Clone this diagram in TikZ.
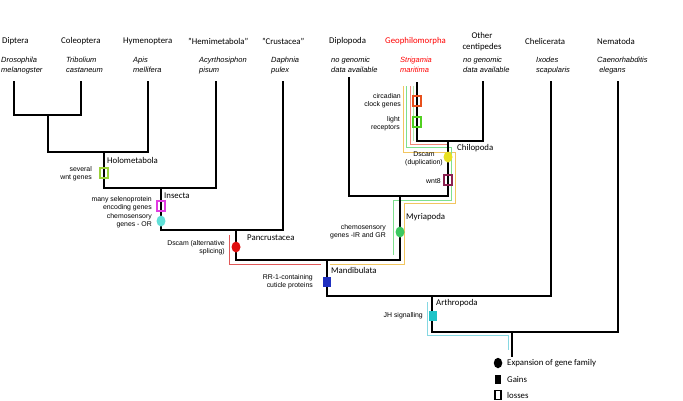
\documentclass[tikz,border=0pt]{standalone}
\usepackage{fontspec}
\setmainfont{Carlito}
\newfontfamily\arialf{Liberation Sans}
\usetikzlibrary{shapes.geometric}
\definecolor{cWnt}{HTML}{9CD23A}
\definecolor{cSel}{HTML}{E03CE0}
\definecolor{cOR}{HTML}{60E0D8}
\definecolor{cDsA}{HTML}{E01010}
\definecolor{cMyr}{HTML}{3CC860}
\definecolor{cRR}{HTML}{2030C0}
\definecolor{cJH}{HTML}{20C4C8}
\definecolor{cCirc}{HTML}{E8501C}
\definecolor{cLight}{HTML}{50D020}
\definecolor{cDsD}{HTML}{E8E020}
\definecolor{cWnt8}{HTML}{8B2050}
\definecolor{lOrange}{HTML}{F2C660}
\definecolor{lGreen}{HTML}{7EE08E}
\definecolor{lSalmon}{HTML}{F08878}
\definecolor{lLight}{HTML}{B0E8A8}
\definecolor{lRed}{HTML}{E05858}
\definecolor{lCyan}{HTML}{86D8E2}
\begin{document}
\begin{tikzpicture}[x=1pt,y=-1pt,
  tree/.style={line width=2.5pt,line cap=rect},
  trace/.style={line width=0.8pt},
  toplab/.style={anchor=west,inner sep=0pt,font=\fontsize{8.8}{10}\selectfont},
  sp/.style={anchor=north west,inner sep=0pt,align=left,font=\arialf\itshape\fontsize{7.5}{9.6}\selectfont},
  mlab/.style={anchor=east,inner sep=0pt,align=right,font=\arialf\fontsize{6.9}{8.2}\selectfont},
  clab/.style={anchor=west,inner sep=0pt,font=\fontsize{8.8}{10}\selectfont},
  hsq/.style={draw=#1,line width=1.6pt,minimum width=8pt,minimum height=10pt,inner sep=0pt},
  fsq/.style={fill=#1,minimum width=8pt,minimum height=10pt,inner sep=0pt},
  ell/.style={ellipse,fill=#1,minimum width=9pt,minimum height=11pt,inner sep=0pt}]
\useasboundingbox (0,0) rectangle (683,400);

% top labels
\node[toplab] (tDip) at (2,41) {Diptera};
\node[toplab] (tCol) at (61,41) {Coleoptera};
\node[toplab] (tHym) at (123,41) {Hymenoptera};
\node[toplab] (tHem) at (188,41) {"Hemimetabola"};
\node[toplab] (tCru) at (262,41) {"Crustacea"};
\node[toplab] (tDipl) at (329,41) {Diplopoda};
\node[toplab,text=red] (tGeo) at (385,41) {Geophilomorpha};
\node[anchor=center,inner sep=0pt,align=center,font=\fontsize{8.8}{11}\selectfont] (tOth) at (482,41.5) {Other\\centipedes};
\node[toplab] (tChe) at (525,41) {Chelicerata};
\node[toplab] (tNem) at (597,41) {Nematoda};

% species
\node[sp] (sDip) at (1,57) {Drosophila\\melanogster};
\node[sp] (sCol) at (66,57) {Tribolium\\castaneum};
\node[sp] (sHym) at (133,57) {Apis\\mellifera};
\node[sp] (sHem) at (199,57) {Acyrthosiphon\\pisum};
\node[sp] (sCru) at (271,57) {Daphnia\\pulex};
\node[sp] (sDipl) at (331,57) {no genomic\\data available};
\node[sp,text=red] (sGeo) at (400,57) {Strigamia\\maritima};
\node[sp] (sOth) at (463,57) {no genomic\\data available};
\node[sp] (sChe) at (536,57) {Ixodes\\scapularis};
\node[sp] (sNem) at (597,57) {Caenorhabditis\\\ elegans};

% trace lines
\draw[trace,lOrange] (403,86) -- (403,152) -- (455,152) -- (455,203) -- (404,203) -- (404,264) -- (330,264);
\draw[trace,lGreen] (406.5,86) -- (406.5,147.5) -- (451,147.5) -- (451,200) -- (393,200) -- (393,255);
\draw[trace,lSalmon] (410,86) -- (410,144) -- (447,144);
\draw[trace,lLight] (413.5,86) -- (413.5,141);
\draw[trace,lRed] (229,235) -- (229,264) -- (321,264);
\draw[trace,lCyan] (427,302) -- (427,335) -- (508,335) -- (508,350);

% leaves
\coordinate (dip) at (14,82);
\coordinate (col) at (81,82);
\coordinate (hym) at (148,82);
\coordinate (hem) at (216,82);
\coordinate (cru) at (283,82);
\coordinate (dipl) at (349,78);
\coordinate (geo) at (417,83);
\coordinate (oth) at (483,82);
\coordinate (che) at (551,82);
\coordinate (nem) at (618,82);
% internal nodes
\coordinate (DC) at (48,115);
\coordinate (Hol) at (104,152);
\coordinate (Ins) at (161,188);
\coordinate (Pan) at (236,230);
\coordinate (Chi) at (448,141);
\coordinate (Myr) at (400,196);
\coordinate (Man) at (327,260);
\coordinate (Art) at (432,296);
\coordinate (Root) at (512,332);
\coordinate (RootEnd) at (512,356);

\draw[tree] (dip) |- (DC) -| (col);
\draw[tree] (DC) |- (Hol) -| (hym);
\draw[tree] (Hol) |- (Ins) -| (hem);
\draw[tree] (Ins) |- (Pan) -| (cru);
\draw[tree] (geo) |- (Chi) -| (oth);
\draw[tree] (dipl) |- (Myr) -| (Chi);
\draw[tree] (Pan) |- (Man) -| (Myr);
\draw[tree] (Man) |- (Art) -| (che);
\draw[tree] (Art) |- (Root) -| (nem);
\draw[tree] (Root) -- (RootEnd);

% clade labels
\node[clab] (lHol) at (107,160) {Holometabola};
\node[clab] (lIns) at (164,196) {Insecta};
\node[clab] (lPan) at (247,238) {Pancrustacea};
\node[clab] (lChi) at (457,148) {Chilopoda};
\node[clab] (lMyr) at (406,217) {Myriapoda};
\node[clab] (lMan) at (331,270) {Mandibulata};
\node[clab] (lArt) at (436,303) {Arthropoda};

% markers
\node[hsq=cWnt] (mWnt) at (104,173) {};
\node[hsq=cSel] (mSel) at (161,206) {};
\node[ell=cOR] (mOR) at (161,221) {};
\node[ell=cDsA] (mDsA) at (236,247) {};
\node[ell=cMyr] (mMyr) at (400,232) {};
\node[fsq=cRR] (mRR) at (327,282) {};
\node[fsq=cJH] (mJH) at (433,316) {};
\node[hsq=cCirc] (mCirc) at (417,101) {};
\node[hsq=cLight] (mLight) at (417,122) {};
\node[ell=cDsD] (mDsD) at (448,157) {};
\node[hsq=cWnt8] (mWnt8) at (448,180) {};

% marker labels
\node[mlab] (aWnt) at (92,174) {several\\wnt genes};
\node[mlab] (aSel) at (152,204) {many selenoprotein\\encoding genes};
\node[mlab] (aOR) at (152,221) {chemosensory\\genes - OR};
\node[mlab] (aDsA) at (225,248) {Dscam (alternative\\splicing)};
\node[mlab] (aCirc) at (401,101) {circadian\\clock genes};
\node[mlab] (aLight) at (400,123.5) {light\\receptors};
\node[anchor=center,inner sep=0pt,align=center,font=\arialf\fontsize{6.9}{8.2}\selectfont] (aDsD) at (424,159) {Dscam\\(duplication)};
\node[mlab] (aWnt8) at (441,181) {wnt8};
\node[mlab] (aMyr) at (386,231.5) {chemosensory\\genes -IR and GR};
\node[mlab] (aRR) at (313,282) {RR-1-containing\\cuticle proteins};
\node[mlab] (aJH) at (423,316) {JH signalling};

% legend
\node[ellipse,fill=black,minimum width=8.5pt,minimum height=10.5pt,inner sep=0pt] (gE) at (498,363) {};
\node[fill=black,minimum width=6.5pt,minimum height=9pt,inner sep=0pt] (gG) at (498,379) {};
\node[draw=black,line width=1.2pt,minimum width=6pt,minimum height=9pt,inner sep=0pt] (gL) at (498,395) {};
\node[clab] (tE) at (507,363) {Expansion of gene family};
\node[clab] (tG) at (507,379) {Gains};
\node[clab] (tL) at (507,395) {losses};
\end{tikzpicture}
\end{document}
